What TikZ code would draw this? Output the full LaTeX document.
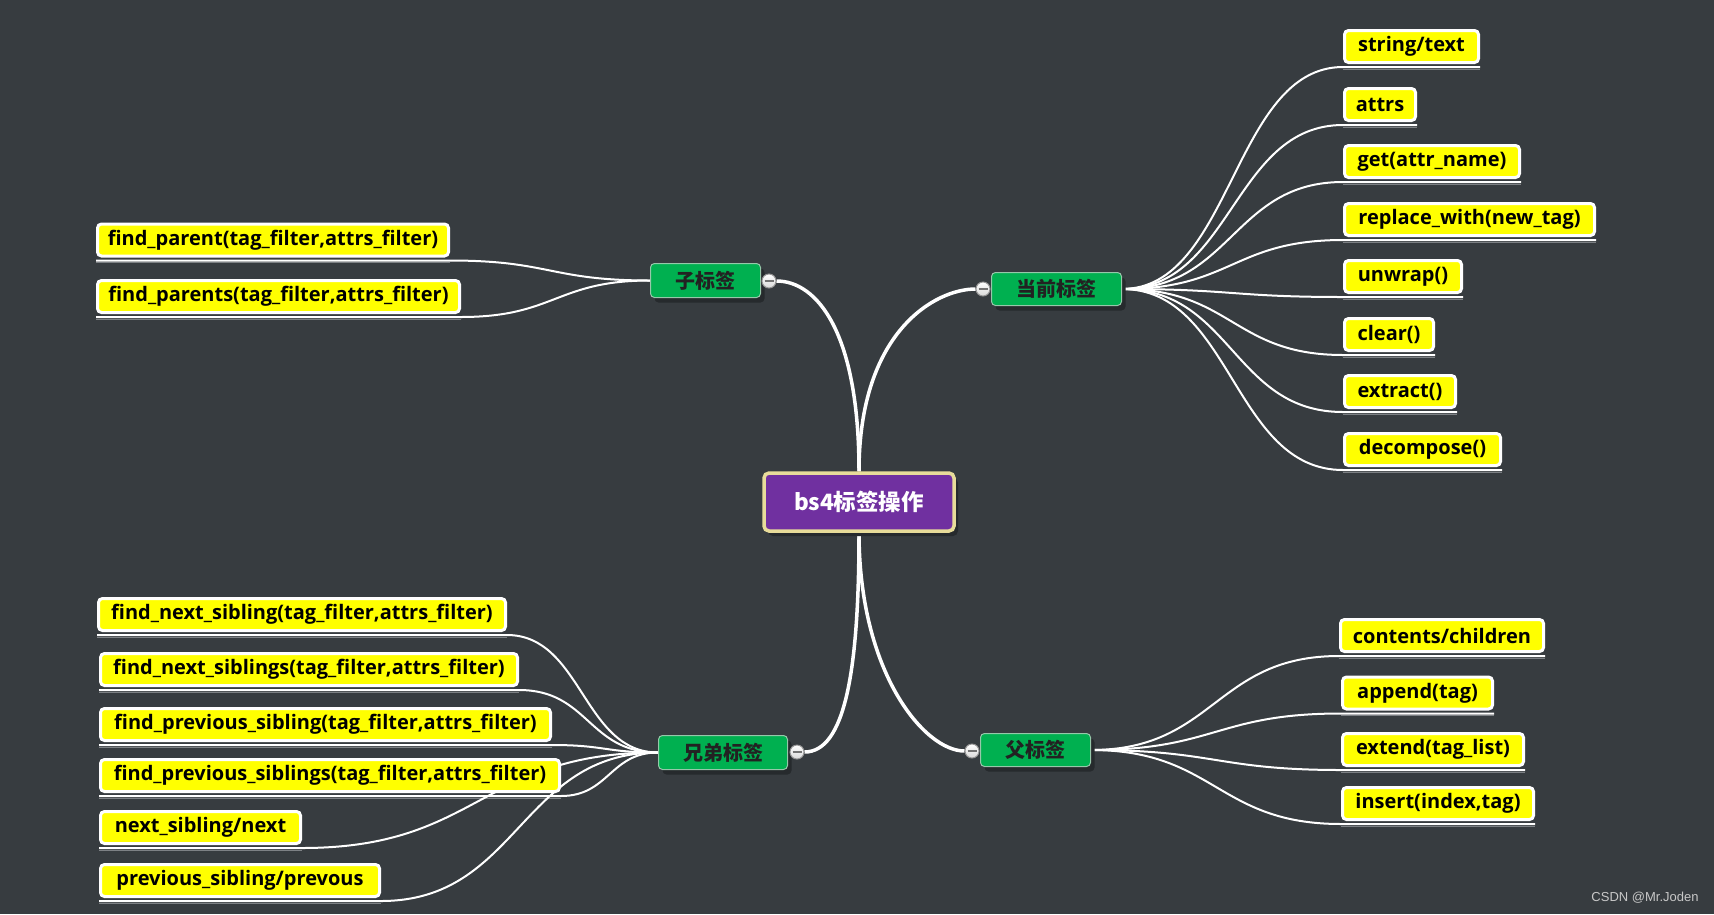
\documentclass[tikz,border=0pt]{standalone}
\usepackage{fontspec}
\setmainfont{Open Sans}
\newfontfamily\cjkfont{Noto Sans CJK SC}
\newfontfamily\wmfont{Liberation Sans}
\usetikzlibrary{calc}
\definecolor{bgc}{RGB}{55,60,64}
\definecolor{leafy}{RGB}{255,255,0}
\definecolor{topicg}{RGB}{0,176,80}
\definecolor{topicb}{RGB}{150,200,170}
\definecolor{topict}{RGB}{34,34,34}
\definecolor{shadowc}{RGB}{38,42,45}
\definecolor{rootp}{RGB}{112,48,160}
\definecolor{rootb}{RGB}{232,220,154}
\definecolor{ulshade}{RGB}{125,129,133}
\definecolor{circb}{RGB}{150,150,150}
\definecolor{wmc}{RGB}{200,200,200}
\pgfdeclarelayer{bgl}
\pgfdeclarelayer{lines}
\pgfsetlayers{bgl,lines,main}
\newcommand\rightleaf[3]{%
  \draw[ulsh] ($(#2.south west)+(0,5)$) -- ($(#2.south east)+(0,5)$);
  \draw[lc] (#1.east) .. controls +(#3,0) and +(-#3,0) .. ($(#2.south west)+(0,3)$) -- ($(#2.south east)+(0,3)$);}
\newcommand\leftleaf[3]{%
  \draw[ulsh] ($(#2.south east)+(0,5)$) -- ($(#2.south west)+(0,5)$);
  \draw[lc] (#1.west) .. controls +(-#3,0) and +(#3,0) .. ($(#2.south east)+(0,3)$) -- ($(#2.south west)+(0,3)$);}
\begin{document}
\begin{tikzpicture}[x=1pt,y=-1pt,
  leaf/.style={draw=white, line width=3pt, fill=leafy, rounded corners=4pt,
    minimum height=32pt, inner xsep=2pt, inner ysep=0pt, anchor=west,
    font=\bfseries\fontsize{20}{22}\selectfont, text=black},
  topic/.style={draw=topicb, line width=1pt, fill=topicg, rounded corners=4pt,
    inner sep=0pt, text=topict, font=\cjkfont\bfseries\fontsize{20}{22}\selectfont,
    preaction={fill=shadowc, transform canvas={shift={(4pt,-5pt)}}}},
  rootbox/.style={draw=rootb, line width=3.5pt, fill=rootp, rounded corners=5pt,
    inner sep=0pt, text=white, font=\cjkfont\bfseries\fontsize{22.5}{25}\selectfont,
    preaction={fill=shadowc, transform canvas={shift={(4pt,-5pt)}}}},
  collapse/.style={circle, minimum size=14pt, inner sep=0pt, draw=circb, line width=1pt,
    top color=white, bottom color=black!15,
    path picture={\draw[line width=1.6pt, black!55]
      ([xshift=-4.5pt]path picture bounding box.center) -- ([xshift=4.5pt]path picture bounding box.center);}},
  lc/.style={draw=white, line width=2pt},
  ulsh/.style={draw=ulshade, line width=1pt},
  rc/.style={draw=white, line width=3.5pt},
]
\useasboundingbox (0,0) rectangle (1714,914);
\begin{pgfonlayer}{bgl}
\fill[bgc] (0,0) rectangle (1714,914);
\end{pgfonlayer}

% root and main topics
\node[rootbox, minimum width=190pt, minimum height=58pt] (root) at (859,502) {bs4标签操作};
\node[topic, minimum width=110pt, minimum height=34pt] (zi) at (705.5,280.5) {子标签};
\node[topic, minimum width=130pt, minimum height=33pt] (cur) at (1056.5,289) {当前标签};
\node[topic, minimum width=129pt, minimum height=34pt] (xd) at (723,752.5) {兄弟标签};
\node[topic, minimum width=110pt, minimum height=33pt] (fu) at (1035.5,750) {父标签};

\node[collapse] (zic) at (769,281) {};
\node[collapse] (curc) at (983,289) {};
\node[collapse] (xdc) at (797,752) {};
\node[collapse] (fuc) at (972,751) {};

% current tag leaves
\node[leaf, minimum width=134pt] (r1) at (1343,46.5) {string/text};
\node[leaf, minimum width=71pt] (r2) at (1343,104.5) {attrs};
\node[leaf, minimum width=175pt] (r3) at (1343,161.5) {get(attr\_name)};
\node[leaf, minimum width=250pt] (r4) at (1343,219.5) {replace\_with(new\_tag)};
\node[leaf, minimum width=117pt] (r5) at (1343,276.5) {unwrap()};
\node[leaf, minimum width=89pt] (r6) at (1343,334.5) {clear()};
\node[leaf, minimum width=111pt] (r7) at (1343,391.5) {extract()};
\node[leaf, minimum width=156pt] (r8) at (1343,449.5) {decompose()};

% parent tag leaves
\node[leaf, minimum width=203pt] (f1) at (1339,635.5) {contents/children};
\node[leaf, minimum width=150pt] (f2) at (1341,693) {append(tag)};
\node[leaf, minimum width=181pt] (f3) at (1341,749.5) {extend(tag\_list)};
\node[leaf, minimum width=191pt] (f4) at (1341,803.5) {insert(index,tag)};

% child tag leaves
\node[leaf, minimum width=351pt] (z1) at (96,240) {find\_parent(tag\_filter,attrs\_filter)};
\node[leaf, minimum width=362pt] (z2) at (96,296.5) {find\_parents(tag\_filter,attrs\_filter)};

% sibling tag leaves
\node[leaf, minimum width=407pt] (x1) at (97,614.5) {find\_next\_sibling(tag\_filter,attrs\_filter)};
\node[leaf, minimum width=417pt] (x2) at (99,669.5) {find\_next\_siblings(tag\_filter,attrs\_filter)};
\node[leaf, minimum width=450pt] (x3) at (99,724.5) {find\_previous\_sibling(tag\_filter,attrs\_filter)};
\node[leaf, minimum width=459pt] (x4) at (99,775.5) {find\_previous\_siblings(tag\_filter,attrs\_filter)};
\node[leaf, minimum width=200pt] (x5) at (99,827.5) {next\_sibling/next};
\node[leaf, minimum width=279pt] (x6) at (99,880.5) {previous\_sibling/prevous};

\node[font=\wmfont\fontsize{13}{15}\selectfont, text=wmc, inner sep=0pt] (wm) at (1645,898) {CSDN @Mr.Joden};

\begin{pgfonlayer}{lines}
% root connectors
\draw[rc] (root.north) .. controls +(0,-140) and +(40,0) .. (zic.east);
\draw[rc] (root.north) .. controls +(0,-140) and +(-40,0) .. (curc.west);
\draw[rc] (root.south) .. controls +(0,140) and +(40,0) .. (xdc.east);
\draw[rc] (root.south) .. controls +(0,140) and +(-40,0) .. (fuc.west);
% current
\rightleaf{cur}{r1}{110}
\rightleaf{cur}{r2}{110}
\rightleaf{cur}{r3}{110}
\rightleaf{cur}{r4}{110}
\rightleaf{cur}{r5}{110}
\rightleaf{cur}{r6}{110}
\rightleaf{cur}{r7}{110}
\rightleaf{cur}{r8}{110}
% parent
\rightleaf{fu}{f1}{124}
\rightleaf{fu}{f2}{124}
\rightleaf{fu}{f3}{124}
\rightleaf{fu}{f4}{124}
% child
\leftleaf{zi}{z1}{100}
\leftleaf{zi}{z2}{94}
% siblings
\leftleaf{xd}{x1}{75}
\leftleaf{xd}{x2}{70}
\leftleaf{xd}{x3}{53}
\leftleaf{xd}{x4}{48}
\leftleaf{xd}{x5}{178}
\leftleaf{xd}{x6}{138}
\end{pgfonlayer}
\end{tikzpicture}
\end{document}
